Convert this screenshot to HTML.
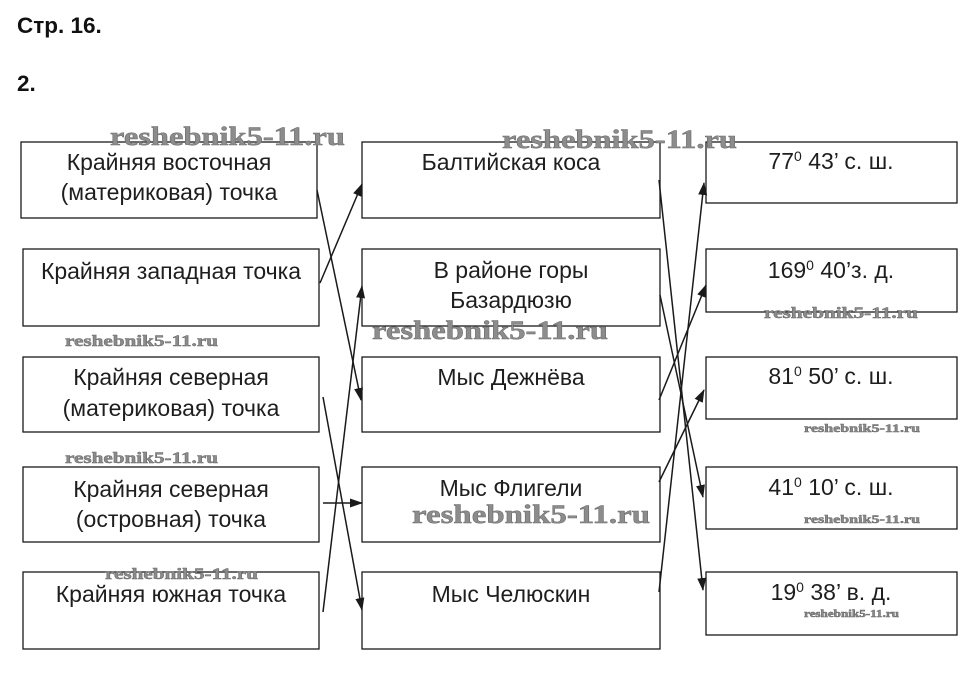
<!DOCTYPE html>
<html><head><meta charset="utf-8"><style>
html,body{margin:0;padding:0;background:#fff;}
svg{display:block;}
.t{font-family:"Liberation Sans",Arial,sans-serif;font-size:23px;fill:#1e1e1e;text-anchor:middle;}
.h{font-family:"Liberation Sans",Arial,sans-serif;font-size:22.5px;font-weight:bold;fill:#111;}
.w{font-family:"Liberation Serif","DejaVu Serif",serif;font-weight:bold;fill:#8c8c8c;stroke:#6a6a6a;stroke-width:0.5;}
</style></head><body>
<svg width="971" height="688" viewBox="0 0 971 688" xmlns="http://www.w3.org/2000/svg">
<defs>
<marker id="ar" markerWidth="13" markerHeight="9" refX="12" refY="4.5" orient="auto" markerUnits="userSpaceOnUse">
<path d="M0,0 L13,4.5 L0,9 z" fill="#1a1a1a"/>
</marker>
</defs>
<text class="h" x="17" y="33">Стр. 16.</text>
<text class="h" x="17" y="91">2.</text>

<g fill="none" stroke="#1a1a1a" stroke-width="1.3">
<rect x="21" y="142" width="296" height="76"/>
<rect x="23" y="249" width="296" height="77"/>
<rect x="23" y="357" width="296" height="75"/>
<rect x="23" y="467" width="296" height="75"/>
<rect x="23" y="572" width="296" height="77"/>

<rect x="362" y="142" width="298" height="76"/>
<rect x="362" y="249" width="298" height="77"/>
<rect x="362" y="357" width="298" height="75"/>
<rect x="362" y="467" width="298" height="75"/>
<rect x="362" y="572" width="298" height="77"/>

<rect x="706" y="142" width="251" height="61"/>
<rect x="706" y="249" width="251" height="63"/>
<rect x="706" y="357" width="251" height="62"/>
<rect x="706" y="467" width="251" height="62"/>
<rect x="706" y="572" width="251" height="63"/>
</g>

<text class="t" x="169" y="170">Крайняя восточная</text>
<text class="t" x="169" y="200">(материковая) точка</text>
<text class="t" x="171" y="279">Крайняя западная точка</text>
<text class="t" x="171" y="385">Крайняя северная</text>
<text class="t" x="171" y="416">(материковая) точка</text>
<text class="t" x="171" y="497">Крайняя северная</text>
<text class="t" x="171" y="527">(островная) точка</text>
<text class="t" x="171" y="602">Крайняя южная точка</text>

<text class="t" x="511" y="170">Балтийская коса</text>
<text class="t" x="511" y="278">В районе горы</text>
<text class="t" x="511" y="308">Базардюзю</text>
<text class="t" x="511" y="385">Мыс Дежнёва</text>
<text class="t" x="511" y="496">Мыс Флигели</text>
<text class="t" x="511" y="602">Мыс Челюскин</text>

<text class="t" x="831" y="169">77<tspan font-size="14" dy="-8">0</tspan><tspan dy="8"> 43’ с. ш.</tspan></text>
<text class="t" x="831" y="278">169<tspan font-size="14" dy="-8">0</tspan><tspan dy="8"> 40’з. д.</tspan></text>
<text class="t" x="831" y="384">81<tspan font-size="14" dy="-8">0</tspan><tspan dy="8"> 50’ с. ш.</tspan></text>
<text class="t" x="831" y="495">41<tspan font-size="14" dy="-8">0</tspan><tspan dy="8"> 10’ с. ш.</tspan></text>
<text class="t" x="831" y="600">19<tspan font-size="14" dy="-8">0</tspan><tspan dy="8"> 38’ в. д.</tspan></text>

<g stroke="#1a1a1a" stroke-width="1.5" fill="none" marker-end="url(#ar)">
<line x1="317" y1="190" x2="361" y2="400"/>
<line x1="320" y1="283" x2="362" y2="184"/>
<line x1="323" y1="397" x2="362" y2="610"/>
<line x1="323" y1="503" x2="362" y2="503"/>
<line x1="323" y1="612" x2="362" y2="286"/>

<line x1="659" y1="180" x2="703" y2="590"/>
<line x1="660" y1="295" x2="703" y2="497"/>
<line x1="659" y1="400" x2="706" y2="285"/>
<line x1="659" y1="482" x2="704" y2="390"/>
<line x1="659" y1="592" x2="704" y2="183"/>
</g>

<g>
<text class="w" x="110" y="145" font-size="26" textLength="235" lengthAdjust="spacingAndGlyphs">reshebnik5-11.ru</text>
<text class="w" x="502" y="148" font-size="26" textLength="235" lengthAdjust="spacingAndGlyphs">reshebnik5-11.ru</text>
<text class="w" x="372" y="339" font-size="26" textLength="236" lengthAdjust="spacingAndGlyphs">reshebnik5-11.ru</text>
<text class="w" x="412" y="523" font-size="26" textLength="238" lengthAdjust="spacingAndGlyphs">reshebnik5-11.ru</text>
<text class="w" x="65" y="346" font-size="16" textLength="153" lengthAdjust="spacingAndGlyphs" stroke-width="0.3">reshebnik5-11.ru</text>
<text class="w" x="65" y="463" font-size="16" textLength="153" lengthAdjust="spacingAndGlyphs" stroke-width="0.3">reshebnik5-11.ru</text>
<text class="w" x="105" y="579" font-size="16" textLength="153" lengthAdjust="spacingAndGlyphs" stroke-width="0.3">reshebnik5-11.ru</text>
<text class="w" x="764" y="318" font-size="16" textLength="154" lengthAdjust="spacingAndGlyphs" stroke-width="0.3">reshebnik5-11.ru</text>
<text class="w" x="804" y="432" font-size="12" textLength="116" lengthAdjust="spacingAndGlyphs" stroke-width="0.2">reshebnik5-11.ru</text>
<text class="w" x="804" y="523" font-size="12" textLength="116" lengthAdjust="spacingAndGlyphs" stroke-width="0.2">reshebnik5-11.ru</text>
<text class="w" x="804" y="617" font-size="10" textLength="95" lengthAdjust="spacingAndGlyphs" stroke-width="0.2">reshebnik5-11.ru</text>
</g>
</svg>
</body></html>
